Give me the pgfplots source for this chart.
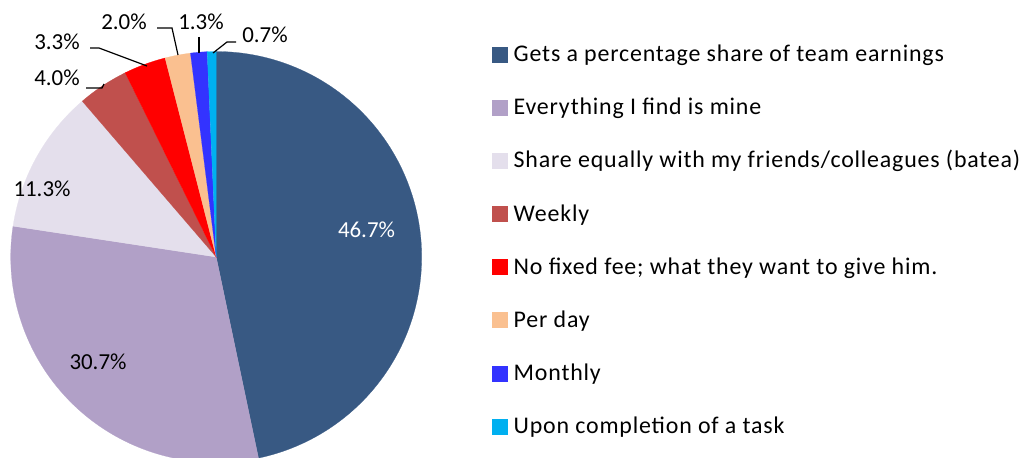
\documentclass[border=0pt]{standalone}
\usepackage{fontspec}
\setmainfont{Carlito}
\newfontfamily\legfont[LetterSpace=3.4]{Carlito}
\usepackage{pgfplots}
\pgfplotsset{compat=1.18}
\definecolor{c1}{RGB}{56,89,131}
\definecolor{c2}{RGB}{177,160,199}
\definecolor{c3}{RGB}{228,223,236}
\definecolor{c4}{RGB}{192,80,77}
\definecolor{c5}{RGB}{255,0,0}
\definecolor{c6}{RGB}{250,192,144}
\definecolor{c7}{RGB}{51,51,255}
\definecolor{c8}{RGB}{0,176,240}
% slice: start cumulative %, end cumulative %, colour
\newcommand\slice[3]{%
  \addplot[fill=#3, draw=#3, line width=0.2bp, domain=#1:#2, samples=120, variable=\t]
    ({205.5*cos(90-3.6*\t)},{205.5*sin(90-3.6*\t)}) -- (0,0) -- cycle;}
\begin{document}
\begin{tikzpicture}
\useasboundingbox (0,0) rectangle (1028bp,458bp);
\begin{axis}[
  x=1bp, y=1bp, hide axis,
  xmin=-220, xmax=220, ymin=-220, ymax=220,
  anchor=center, at={(216.2bp,201bp)}, clip=false,
  legend image code/.code={\fill[#1] (0bp,0bp) rectangle (15bp,15bp);},
  legend style={draw=none, fill=none, at={(axis cs:275.3,210.5)}, anchor=north west,
    font=\legfont\fontsize{24}{28}\selectfont, row sep=28.07bp, inner sep=0pt, outer sep=0pt,
    nodes={inner sep=0pt, text height=10bp, text depth=10bp},
    /tikz/every odd column/.append style={column sep=7bp}},
  legend cell align=left,
]
\slice{0}{46.7}{c1}
\slice{46.7}{77.4}{c2}
\slice{77.4}{88.7}{c3}
\slice{88.7}{92.7}{c4}
\slice{92.7}{96.0}{c5}
\slice{96.0}{98.0}{c6}
\slice{98.0}{99.3}{c7}
\slice{99.3}{100}{c8}
\legend{Gets a percentage share of team earnings,
  Everything I find is mine,
  Share equally with my friends/colleagues (batea),
  Weekly,
  No fixed fee; what they want to give him.,
  Per day,
  Monthly,
  Upon completion of a task}
\begin{scope}[font=\fontsize{23}{27}\selectfont]
\node[text=white] at (axis cs:150.3,27) {46.7\%};
\node at (axis cs:-118.2,-105) {30.7\%};
\node at (axis cs:-174.2,68) {11.3\%};
\node at (axis cs:-159.2,179) {4.0\%};
\node at (axis cs:-159.2,215) {3.3\%};
\node at (axis cs:-92.2,235) {2.0\%};
\node at (axis cs:-15.2,235) {1.3\%};
\node at (axis cs:48.8,222) {0.7\%};
\draw[line width=1.2bp] (axis cs:-130.2,169) -- (axis cs:-114.2,169) -- (axis cs:-112.2,173);
\draw[line width=1.2bp] (axis cs:-126.2,209) -- (axis cs:-117.2,209) -- (axis cs:-69.2,191);
\draw[line width=1.2bp] (axis cs:-59.2,229) -- (axis cs:-44.2,229) -- (axis cs:-38.2,202);
\draw[line width=1.2bp] (axis cs:-17.2,220) -- (axis cs:-17.2,204);
\draw[line width=1.2bp] (axis cs:19.8,215) -- (axis cs:10.8,215) -- (axis cs:-3.2,204);
\end{scope}
\end{axis}
\end{tikzpicture}
\end{document}
